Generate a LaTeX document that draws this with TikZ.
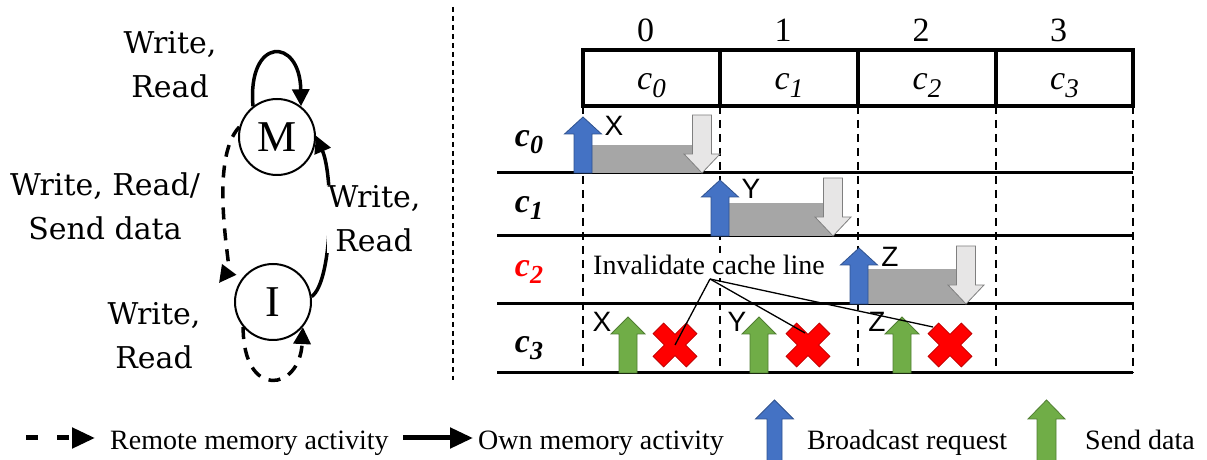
\documentclass[tikz,border=0pt]{standalone}
\usepackage{fontspec}
\setmainfont{Liberation Serif}
\newfontfamily\statefont{DejaVu Serif}
\newfontfamily\tagfont{Liberation Sans}
\usetikzlibrary{arrows.meta}

\definecolor{bcastblue}{HTML}{4472C4}
\definecolor{bcastedge}{HTML}{2F528F}
\definecolor{sendgreen}{HTML}{70AD47}
\definecolor{sendedge}{HTML}{507E32}
\definecolor{holdgrey}{HTML}{A6A6A6}
\definecolor{relgrey}{HTML}{E7E6E6}
\definecolor{reledge}{HTML}{7F7F7F}
\definecolor{killred}{HTML}{FF0000}
\definecolor{killedge}{HTML}{C00000}

% cache names c_i (header: italic, rows: bold italic)
\newcommand{\cidx}[1]{\textit{c\raisebox{-8pt}{\fontsize{27}{27}\selectfont #1}}}
\newcommand{\cbold}[1]{\textbf{\textit{c\raisebox{-7pt}{\fontsize{26}{26}\selectfont #1}}}}

\tikzset{
  % block arrows: length, head length, shaft half width, head half width
  pics/uparr/.style n args={4}{code={
    \path[pic actions] (-#3,0) -- (-#3,#1-#2) -- (-#4,#1-#2) -- (0,#1)
      -- (#4,#1-#2) -- (#3,#1-#2) -- (#3,0) -- cycle;
  }},
  pics/downarr/.style n args={4}{code={
    \path[pic actions] (0,0) -- (#4,#2) -- (#3,#2) -- (#3,#1)
      -- (-#3,#1) -- (-#3,#2) -- (-#4,#2) -- cycle;
  }},
  pics/redx/.style={code={
    \path[pic actions, rotate=45] (-7.5,-23.5) -- (7.5,-23.5) -- (7.5,-7.5)
      -- (23.5,-7.5) -- (23.5,7.5) -- (7.5,7.5) -- (7.5,23.5) -- (-7.5,23.5)
      -- (-7.5,7.5) -- (-23.5,7.5) -- (-23.5,-7.5) -- (-7.5,-7.5) -- cycle;
  }},
  mistate/.style={circle, draw, line width=2pt, minimum size=76pt, inner sep=0pt,
    font=\fontsize{44}{44}\selectfont},
  own/.style={line width=3.5pt, -{Triangle[length=17pt,width=17pt]}},
  remote/.style={own, dash pattern=on 12pt off 9pt},
  legarrow/.style={line width=5pt, -{Triangle[length=23pt,width=20pt]}},
  statelab/.style={align=center, font=\statefont\fontsize{30}{44}\selectfont},
  sepline/.style={line width=1.3pt, dash pattern=on 5pt off 4pt},
  boxline/.style={line width=3.5pt},
  rowline/.style={line width=3pt},
  gridline/.style={line width=2.3pt, dash pattern=on 8pt off 6pt},
  numlab/.style={anchor=base, font=\fontsize{34}{34}\selectfont},
  hdrlab/.style={anchor=base, font=\fontsize{34}{34}\selectfont},
  rowlab/.style={anchor=base, font=\fontsize{34}{34}\selectfont},
  tag/.style={font=\tagfont\fontsize{28}{28}\selectfont, inner sep=0pt},
  note/.style={anchor=base west, inner sep=3pt, fill=white, font=\fontsize{28}{28}\selectfont},
  legtext/.style={anchor=base west, inner sep=0pt, font=\fontsize{28}{28}\selectfont},
  bcast/.style={fill=bcastblue, draw=bcastedge, line width=0.8pt},
  senddata/.style={fill=sendgreen, draw=sendedge, line width=0.8pt},
  release/.style={fill=relgrey, draw=reledge, line width=0.8pt},
  killed/.style={fill=killred, draw=killedge, line width=0.8pt},
  hold/.style={fill=holdgrey},
  pointer/.style={line width=1.3pt},
}

\begin{document}
\begin{tikzpicture}[x=1pt, y=1pt]
  \useasboundingbox (0,0) rectangle (1207,460);

  %% MI state machine

  % states
  \node[mistate] (M) at (277,323) {M};
  \node[mistate] (I) at (273,158) {I};
  \coordinate (Iin) at (219,177);

  % transitions
  \draw[own] (M.128) .. controls +(-6,70) and +(-1,70) .. (M.52);
  \draw[own] (I.8) .. controls +(21,15) and +(18,-42) .. (M.2);
  \draw[remote] (M.165) .. controls +(-31,-33) and +(12,16) .. (Iin);
  \draw[remote] (I.220) .. controls +(0,-73) and +(-3,-64) .. (I.320);

  \node[statelab] (selfM) at (170,395) {Write,\\Read};
  \node[statelab] (MtoI) at (105,254) {Write, Read/\\Send data};
  \node[statelab, fill=white, inner sep=1pt] (ItoM) at (374,241) {Write,\\Read};
  \node[statelab] (selfI) at (154,124) {Write,\\Read};

  % separator
  \draw[sepline] (453,453) -- (453,80);

  %% ownership of the cache line over time

  % header
  \draw[boxline] (583,354) rectangle (1133,410);
  \foreach \xc in {720,858,996} \draw[boxline] (\xc,354) -- (\xc,410);
  \foreach \i/\xc in {0/651.5,1/789,2/927,3/1064.5} {
    \node[hdrlab] (h\i) at (\xc,370) {\cidx{\i}};
    \node[numlab] (n\i) at (\xc-6,418) {\i};
  }

  % rows
  \foreach \yr in {287,224,156,87} \draw[rowline] (497,\yr) -- (1133,\yr);
  \foreach \xc in {583,720,858,996,1133} \draw[gridline] (\xc,354) -- (\xc,87);
  \foreach \i/\yr in {0/313,1/247,3/107} \node[rowlab] (r\i) at (529,\yr) {\cbold{\i}};
  \node[rowlab, text=killred] (r2) at (529,183) {\cbold{2}};

  % broadcast, hold, release
  \foreach \xb/\yb/\yg/\xd/\lab in {583/287/315/702/X, 720/224/257/833/Y, 859/156/191/966/Z} {
    \path[hold] (\xb+9,\yb) rectangle (\xd,\yg);
    \pic[bcast] at (\xb,\yb) {uparr={56}{17}{9}{18.5}};
    \pic[release] at (\xd,\yb) {downarr={58}{19}{9.5}{18}};
    \node[tag] (t\lab) at (\xb+31,\yb+47) {\lab};
  }

  % c3 sends its copy and drops it
  \foreach \xg/\xt/\xk/\lab in {628/602/675/X, 759/737/808/Y, 902/877/950/Z} {
    \pic[senddata] at (\xg,87) {uparr={56}{17}{9}{17}};
    \node[tag] (s\lab) at (\xt,138) {\lab};
    \pic[killed] at (\xk,115) {redx};
  }

  % invalidation
  \node[note] (inv) at (590,185) {Invalidate cache line};
  \coordinate (fan) at (710,181);
  \coordinate (hitX) at (675,115);
  \coordinate (hitY) at (805,127);
  \coordinate (hitZ) at (933,133);
  \draw[pointer] (fan) -- (hitX);
  \draw[pointer] (fan) -- (hitY);
  \draw[pointer] (fan) -- (hitZ);

  %% legend
  \coordinate (ra) at (26,22);
  \coordinate (rb) at (95,22);
  \draw[legarrow, dash pattern=on 12pt off 19pt] (ra) -- (rb);
  \node[legtext] (lremote) at (110,10) {Remote memory activity};
  \coordinate (oa) at (403,22);
  \coordinate (ob) at (473,22);
  \draw[legarrow] (oa) -- (ob);
  \node[legtext] (lown) at (478,10) {Own memory activity};
  \pic[bcast] at (774.5,-2) {uparr={62}{19}{7.5}{19}};
  \node[legtext] (lbcast) at (807,10) {Broadcast request};
  \pic[senddata] at (1046.5,-2) {uparr={62}{19}{9.5}{18.5}};
  \node[legtext] (lsend) at (1085,10) {Send data};

\end{tikzpicture}
\end{document}
